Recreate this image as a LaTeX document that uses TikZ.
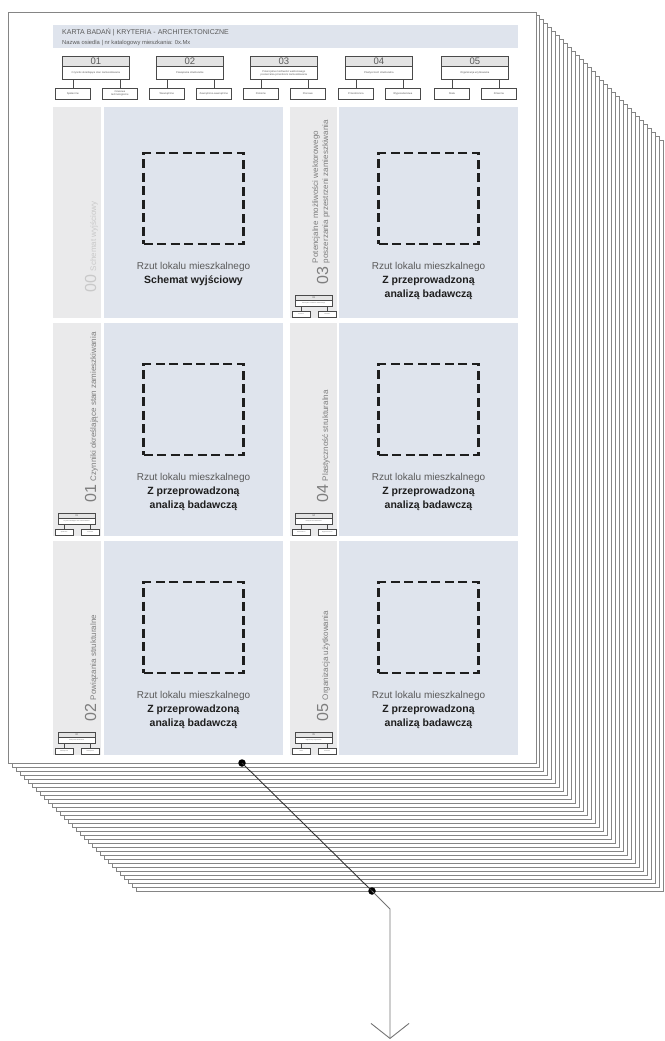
\documentclass[tikz,border=0pt]{standalone}
\usepackage{fontspec}
\setmainfont{Liberation Sans}
\usetikzlibrary{arrows.meta}
\definecolor{panelblue}{HTML}{DFE4ED}
\definecolor{stripgray}{HTML}{EAEAEB}
\definecolor{numfill}{HTML}{E4E4E4}
\definecolor{boxedge}{HTML}{4A4A4A}
\definecolor{pageedge}{HTML}{858585}
\definecolor{txtgray}{HTML}{5A5A5A}
\definecolor{labgray}{HTML}{7E7E7E}
\definecolor{faint}{HTML}{C9C9C9}
\definecolor{darktxt}{HTML}{1E1E1E}
\tikzset{
  sheet/.style={draw=pageedge, line width=1pt, fill=white},
  band/.style={fill=panelblue, inner sep=0pt, anchor=north west},
  headtxt/.style={anchor=west, inner sep=0pt, text=txtgray},
  numbox/.style={draw=boxedge, fill=numfill, line width=0.7pt, inner sep=0pt, anchor=north west,
    minimum width=67pt, minimum height=10pt, text=txtgray, font=\fontsize{9.5}{9.5}\selectfont},
  namebox/.style={draw=boxedge, fill=white, line width=0.7pt, inner sep=0pt, anchor=north west,
    minimum width=67pt, minimum height=13pt, text=txtgray, align=center, font=\fontsize{2.6}{3}\selectfont},
  subbox/.style={draw=boxedge, fill=white, line width=0.7pt, inner sep=0pt, anchor=north west,
    minimum width=35pt, minimum height=11pt, text=txtgray, align=center, font=\fontsize{2.6}{3}\selectfont},
  tick/.style={draw=boxedge, line width=0.5pt},
  mininum/.style={draw=boxedge, fill=numfill, line width=0.4pt, inner sep=0pt, anchor=north west,
    minimum width=37pt, minimum height=5pt, text=txtgray, font=\fontsize{2.5}{2.5}\selectfont},
  mininame/.style={draw=boxedge, fill=white, line width=0.4pt, inner sep=0pt, anchor=north west,
    minimum width=37pt, minimum height=6pt, text=txtgray, font=\fontsize{1.4}{1.6}\selectfont},
  minisub/.style={draw=boxedge, fill=white, line width=0.4pt, inner sep=0pt, anchor=north west,
    minimum width=18pt, minimum height=6pt, text=txtgray, font=\fontsize{1.4}{1.6}\selectfont},
  strip/.style={fill=stripgray, inner sep=0pt, anchor=north west},
  plan/.style={fill=panelblue, inner sep=0pt, anchor=north west},
  frame/.style={draw=darktxt, dash pattern=on 9pt off 4.5pt, line width=2.2pt, inner sep=0pt,
    minimum width=100pt, minimum height=91pt},
  rzut/.style={anchor=base, inner sep=0pt, text=txtgray, font=\fontsize{10}{10}\selectfont},
  rzutb/.style={anchor=base, inner sep=0pt, text=darktxt, font=\fontsize{10.5}{10.5}\selectfont\bfseries},
  sidelab/.style={rotate=90, anchor=base west, inner sep=0pt, text=labgray, font=\fontsize{8}{10}\selectfont},
  dot/.style={circle, fill=black, inner sep=0pt, minimum size=7.5pt},
  wire/.style={line width=0.9pt},
}
% #1 id, #2 left, #3 number, #4 name, #5 sub1, #6 sub2
\newcommand\catbox[6]{%
  \node[numbox] (n#1) at (#2,56) {#3};
  \node[namebox] (m#1) at (#2,66) {#4};
  \node[subbox] (sa#1) at ({#2-7},88) {#5};
  \node[subbox] (sb#1) at ({#2+40},88) {#6};
  \draw[tick] (sa#1.north) -- (sa#1.north |- m#1.south);
  \draw[tick] (sb#1.north) -- (sb#1.north |- m#1.south);
}
% #1 id, #2 strip left, #3 strip right, #4 main left, #5 main right, #6 top, #7 bottom, #8 rzut y
\newcommand\planpanel[8]{%
  \node[strip, minimum width={#3-#2}, minimum height={#7-#6}] (strip#1) at (#2,#6) {};
  \node[plan, minimum width={#5-#4}, minimum height={#7-#6}] (plan#1) at (#4,#6) {};
  \node[frame] (frame#1) at ({(#4+#5)/2},{#8-67.5}) {};
  \node[rzut] (rz#1) at ({(#4+#5)/2},{#8+3.5}) {Rzut lokalu mieszkalnego};
}
% #1 id, #2 strip left, #3 bottom, #4 number, #5 name, #6 sub1, #7 sub2
\newcommand\minidiag[7]{%
  \node[mininum] (mn#1) at ({#2+5},{#3-23}) {#4};
  \node[mininame] (mm#1) at ({#2+5},{#3-18}) {#5};
  \node[minisub] (msa#1) at ({#2+2},{#3-7}) {#6};
  \node[minisub] (msb#1) at ({#2+28},{#3-7}) {#7};
  \draw[tick, line width=0.3pt] (msa#1.north) -- (msa#1.north |- mm#1.south);
  \draw[tick, line width=0.3pt] (msb#1.north) -- (msb#1.north |- mm#1.south);
}
\begin{document}
\begin{tikzpicture}[x=1pt,y=-1pt]
\useasboundingbox (0,0) rectangle (664,1041);
% stack of sheets behind
\foreach \i in {32,31,...,1} {
  \draw[sheet] ({8+4*\i},{12+4*\i}) rectangle ++(527.5,751);
}
% top sheet
\node[sheet, anchor=north west, inner sep=0pt, minimum width=527.5pt, minimum height=751pt] (page) at (8,12) {};

% header
\node[band, minimum width=465pt, minimum height=23pt] (band) at (53,25) {};
\node[headtxt, font=\fontsize{7}{7}\selectfont] (title) at (62,32) {KARTA BADAŃ | KRYTERIA - ARCHITEKTONICZNE};
\node[headtxt, font=\fontsize{5.8}{6}\selectfont] (subtitle) at (62,43) {Nazwa osiedla | nr katalogowy mieszkania: 0x.Mx};

% category boxes
\catbox{1}{62}{01}{Czynniki określające stan zamieszkiwania}{Społeczne}{Czasowe\\technologiczne}
\catbox{2}{156}{02}{Powiązania strukturalne}{Wewnętrzne}{Zewnętrzno-wewnętrzne}
\catbox{3}{250}{03}{Potencjalne możliwości wektorowego\\poszerzania przestrzeni zamieszkiwania}{Poziome}{Pionowe}
\catbox{4}{345}{04}{Plastyczność strukturalna}{Przestrzenna}{Wyposażeniowa}
\catbox{5}{441}{05}{Organizacja użytkowania}{Stała}{Zmienna}

% panels
\planpanel{0}{53}{101}{104}{283}{107}{318}{266}
\node[rzutb] (zb0) at (193.5,283.5) {Schemat wyjściowy};
\node[sidelab] (lab0) at (96,293) {{\color{faint}\fontsize{16}{16}\selectfont 00}\hspace{4pt}{\color{faint}Schemat wyjściowy}};

\planpanel{3}{290}{337}{339}{518}{107}{318}{266}
\node[rzutb] (zb3) at (428.5,283.5) {Z przeprowadzoną};
\node[rzutb] (zc3) at (428.5,297) {analizą badawczą};
\node[sidelab] (lab3) at (328,285) {{\fontsize{16}{16}\selectfont 03}\hspace{4pt}\begin{tabular}[b]{@{}l@{}}Potencjalne możliwości wektorowego\\poszerzania przestrzeni zamieszkiwania\end{tabular}};
\minidiag{3}{290}{318}{03}{Potencjalne możliwości wektorowego}{Poziome}{Pionowe}

\planpanel{1}{53}{101}{104}{283}{323}{536}{477}
\node[rzutb] (zb1) at (193.5,494.5) {Z przeprowadzoną};
\node[rzutb] (zc1) at (193.5,508) {analizą badawczą};
\node[sidelab] (lab1) at (96,503) {{\fontsize{16}{16}\selectfont 01}\hspace{4pt}Czynniki określające stan zamieszkiwania};
\minidiag{1}{53}{536}{01}{Czynniki określające stan zamieszkiwania}{Społeczne}{Czasowe}

\planpanel{4}{290}{337}{339}{518}{323}{536}{477}
\node[rzutb] (zb4) at (428.5,494.5) {Z przeprowadzoną};
\node[rzutb] (zc4) at (428.5,508) {analizą badawczą};
\node[sidelab] (lab4) at (328,503) {{\fontsize{16}{16}\selectfont 04}\hspace{4pt}Plastyczność strukturalna};
\minidiag{4}{290}{536}{04}{Plastyczność strukturalna}{Przestrzenna}{Wyposażeniowa}

\planpanel{2}{53}{101}{104}{283}{541}{755}{695}
\node[rzutb] (zb2) at (193.5,712.5) {Z przeprowadzoną};
\node[rzutb] (zc2) at (193.5,726) {analizą badawczą};
\node[sidelab] (lab2) at (96,722) {{\fontsize{16}{16}\selectfont 02}\hspace{4pt}Powiązania strukturalne};
\minidiag{2}{53}{755}{02}{Powiązania strukturalne}{Wewnętrzne}{Zewnętrzne}

\planpanel{5}{290}{337}{339}{518}{541}{755}{695}
\node[rzutb] (zb5) at (428.5,712.5) {Z przeprowadzoną};
\node[rzutb] (zc5) at (428.5,726) {analizą badawczą};
\node[sidelab] (lab5) at (328,722) {{\fontsize{16}{16}\selectfont 05}\hspace{4pt}Organizacja użytkowania};
\minidiag{5}{290}{755}{05}{Organizacja użytkowania}{Stała}{Zmienna}

% connector
\node[dot] (d1) at (242,763) {};
\node[dot] (d2) at (372,891) {};
\coordinate (bend) at (390,909);
\coordinate (tip) at (390,1039);
\draw[wire, draw=black!80] (d1.center) -- (d2.center);
\draw[wire, draw=black!55, -{Straight Barb[length=15pt,width=38pt,line width=0.9pt]}] (d2.center) -- (bend) -- (tip);
\end{tikzpicture}
\end{document}
